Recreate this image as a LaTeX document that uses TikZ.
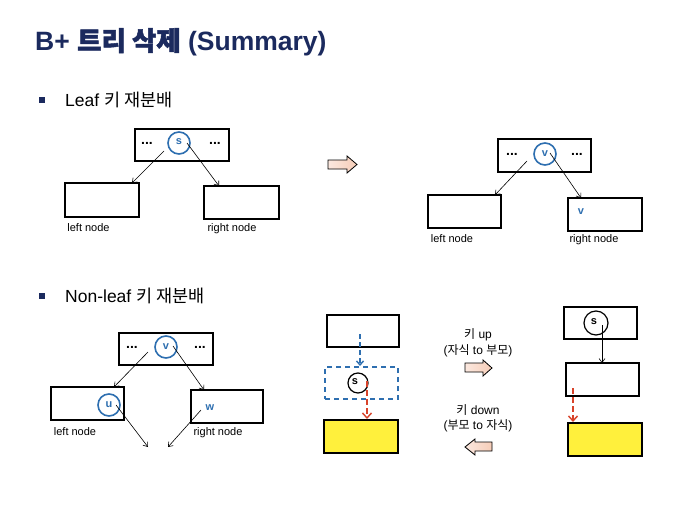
\documentclass[tikz,border=0pt]{standalone}
\usepackage{fontspec}
\setmainfont{Liberation Sans}
\newfontfamily\kr{Noto Sans CJK KR}
\newfontfamily\krb[FakeBold=2]{Noto Sans CJK KR}
\usetikzlibrary{arrows.meta,calc}
\definecolor{navy}{HTML}{1B2A5E}
\definecolor{bluec}{HTML}{2E6FB0}
\definecolor{redc}{HTML}{D8432A}
\definecolor{yel}{HTML}{FFF03C}
\definecolor{peach}{HTML}{F6CDB8}
\definecolor{peachl}{HTML}{FBE8DF}
\tikzset{
  box/.style={draw=black, line width=1.2pt, inner sep=0pt, outer sep=0pt},
  ybox/.style={box, fill=yel},
  dbox/.style={draw=bluec, line width=1.4pt, dash pattern=on 5pt off 4pt, inner sep=0pt},
  bcirc/.style={circle, draw=bluec, line width=1.6pt, inner sep=0pt, minimum size=22pt},
  kcirc/.style={circle, draw=black, line width=1.2pt, inner sep=0pt, minimum size=22pt},
  conn/.style={-{Straight Barb[length=4pt,width=6pt]}, line width=0.6pt},
  bconn/.style={-{Straight Barb[length=4pt,width=7pt]}, draw=bluec, line width=1.4pt, dash pattern=on 5pt off 3pt},
  rconn/.style={-{Straight Barb[length=5pt,width=9pt]}, draw=redc, line width=1.4pt, dash pattern=on 6pt off 3pt},
  lbl/.style={font=\fontsize{11}{12}\selectfont, inner sep=0pt},
  mlbl/.style={font=\fontsize{12}{13}\selectfont, inner sep=0pt},
  dots/.style={font=\fontsize{14}{14}\selectfont\bfseries, inner sep=0pt},
  bl/.style={text=bluec, font=\fontsize{11}{12}\selectfont\bfseries, inner sep=0pt},
  sl/.style={font=\fontsize{11}{12}\selectfont\bfseries, inner sep=0pt},
  blk/.style={draw=black, line width=0.8pt, left color=peachl, right color=peach, line join=miter},
}
\begin{document}
\begin{tikzpicture}[x=1pt, y={(0pt,-1pt)}]
\useasboundingbox (0,0) rectangle (681,506);
\fill[white] (0,0) rectangle (681,506);

% title
\node[anchor=west, inner sep=0pt, text=navy, font=\fontsize{26.5}{29}\selectfont\bfseries] (title) at (35,42) {B+ {\krb 트리 삭제} (Summary)};

% bullets
\fill[navy] (39,97) rectangle (45,103);
\node[anchor=west, inner sep=0pt, font=\fontsize{17.5}{19}\selectfont] (b1) at (65,100) {Leaf {\kr 키 재분배}};
\fill[navy] (39,293) rectangle (45,299);
\node[anchor=west, inner sep=0pt, font=\fontsize{17.5}{19}\selectfont] (b2) at (65,296) {Non-leaf {\kr 키 재분배}};

% ---------- top left ----------
\node[box, minimum width=94pt, minimum height=32pt] (tlp) at (182,145) {};
\node[dots] (tld1) at (147,143) {...};
\node[dots] (tld2) at (215,143) {...};
\node[bcirc] (tls) at (179,143) {};
\node[bl] (tlst) at (179,142) {s};
\node[box, minimum width=74pt, minimum height=34pt] (tll) at (102,200) {};
\node[box, minimum width=75pt, minimum height=33pt] (tlr) at (241.5,202.5) {};
\coordinate (tla1) at ($(tls)+(-15,8)$);
\coordinate (tla2) at ($(tll.north east)+(-7,0)$);
\coordinate (tlb1) at ($(tls)+(8,0)$);
\coordinate (tlb2) at ($(tlr.north west)+(15,0)$);
\draw[conn] (tla1) -- (tla2);
\draw[conn] (tlb1) -- (tlb2);
\node[lbl] (tlln) at (88.5,228) {left node};
\node[lbl] (tlrn) at (232,229) {right node};

% block arrow top
\draw[blk] (328,160) -- (347,160) -- (347,156) -- (357,164.5) -- (347,173) -- (347,169) -- (328,169) -- cycle;

% ---------- top right ----------
\node[box, minimum width=93pt, minimum height=33pt] (trp) at (544.5,155.5) {};
\node[dots] (trd1) at (512,154) {...};
\node[dots] (trd2) at (577,154) {...};
\node[bcirc] (trv) at (545,154) {};
\node[bl] (trvt) at (545,154) {v};
\node[box, minimum width=73pt, minimum height=33pt] (trl) at (464.5,211.5) {};
\node[box, minimum width=74pt, minimum height=33pt] (trr) at (605,214.5) {};
\node[bl] (trrv) at (581,212) {v};
\coordinate (tra1) at ($(trv)+(-18,7)$);
\coordinate (tra2) at ($(trl.north east)+(-6,0)$);
\coordinate (trb1) at ($(trv)+(5,-1)$);
\coordinate (trb2) at ($(trr.north west)+(13,0)$);
\draw[conn] (tra1) -- (tra2);
\draw[conn] (trb1) -- (trb2);
\node[lbl] (trln) at (452,239) {left node};
\node[lbl] (trrn) at (594,240) {right node};

% ---------- bottom left ----------
\node[box, minimum width=94pt, minimum height=32pt] (blp) at (166,349) {};
\node[dots] (bld1) at (132,347) {...};
\node[dots] (bld2) at (200,347) {...};
\node[bcirc] (blv) at (166,347) {};
\node[bl] (blvt) at (166,347) {v};
\node[box, minimum width=73pt, minimum height=33pt] (bll) at (87.5,403.5) {};
\node[box, minimum width=72pt, minimum height=33pt] (blr) at (227,406.5) {};
\node[bcirc] (blu) at (109,405) {};
\node[bl] (blut) at (109,405) {u};
\node[bl] (blw) at (210,408) {w};
\coordinate (bla1) at ($(blv)+(-18,5)$);
\coordinate (bla2) at ($(bll.north east)+(-10,0)$);
\coordinate (blb1) at ($(blv)+(7,-1)$);
\coordinate (blb2) at ($(blr.north west)+(13,0)$);
\coordinate (blc1) at ($(blu)+(7,0)$);
\coordinate (blc2) at (148,447);
\coordinate (bld1c) at ($(blw)+(-9,2)$);
\coordinate (bld2c) at (168,447);
\draw[conn] (bla1) -- (bla2);
\draw[conn] (blb1) -- (blb2);
\draw[conn] (blc1) -- (blc2);
\draw[conn] (bld1c) -- (bld2c);
\node[lbl] (blln) at (75,432) {left node};
\node[lbl] (blrn) at (218,433) {right node};

% ---------- bottom middle ----------
\node[box, minimum width=72pt, minimum height=32pt] (bmt) at (363,331) {};
\node[dbox, minimum width=73pt, minimum height=32pt] (bmd) at (361.5,383) {};
\node[kcirc, minimum size=20pt] (bms) at (358,383) {};
\node[sl] (bmst) at (355,382) {s};
\node[ybox, minimum width=74pt, minimum height=33pt] (bmy) at (361,436.5) {};
\coordinate (bmb1) at (360,334);
\coordinate (bmb2) at (360,366);
\draw[bconn] (bmb1) -- (bmb2);
\coordinate (bmr1) at (367,381);
\coordinate (bmr2) at (367,419);
\draw[rconn] (bmr1) -- (bmr2);

% middle texts and arrows
\node[mlbl] (ku1) at (478,335) {{\kr 키} up};
\node[mlbl] (ku2) at (478,351) {({\kr 자식} to {\kr 부모})};
\draw[blk] (465,363) -- (483,363) -- (483,360) -- (492,368) -- (483,376) -- (483,372) -- (465,372) -- cycle;
\node[mlbl] (kd1) at (478,410) {{\kr 키} down};
\node[mlbl] (kd2) at (478,426) {({\kr 부모} to {\kr 자식})};
\draw[blk] (492,442) -- (475,442) -- (475,439) -- (465,447) -- (475,455) -- (475,451) -- (492,451) -- cycle;

% ---------- bottom right ----------
\node[box, minimum width=73pt, minimum height=32pt] (brt) at (600.5,323) {};
\node[kcirc, minimum size=24pt] (brs) at (596,323) {};
\node[sl] (brst) at (594,322) {s};
\node[box, minimum width=73pt, minimum height=33pt] (brm) at (602.5,379.5) {};
\node[ybox, minimum width=74pt, minimum height=33pt] (bry) at (605,439.5) {};
\coordinate (brk1) at ($(brs)+(6,2)$);
\coordinate (brk2) at (brk1 |- brm.north);
\draw[conn] (brk1) -- (brk2);
\coordinate (brr1) at (573,388);
\coordinate (brr2) at (573,422);
\draw[rconn] (brr1) -- (brr2);
\end{tikzpicture}
\end{document}
